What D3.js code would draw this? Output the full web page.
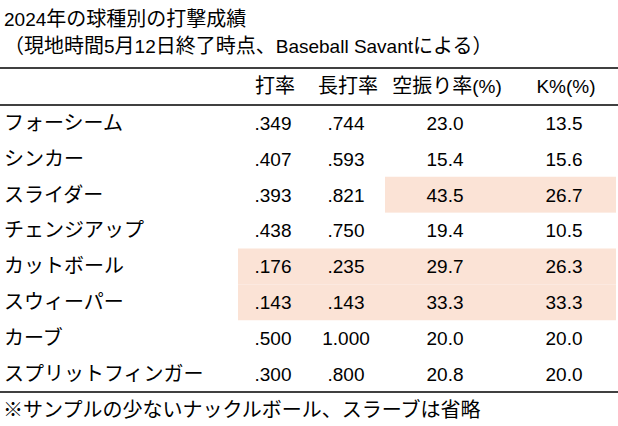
<!DOCTYPE html>
<html><head><meta charset="utf-8">
<script src="https://cdn.jsdelivr.net/npm/d3@7"></script>
<style>
html,body{margin:0;padding:0;background:#fff;}
svg{display:block;font-family:"Liberation Sans","Noto Sans CJK JP",Arial,sans-serif;}
</style></head><body>
<svg id="c" width="618" height="426"></svg>
<script>
const titleLines = ["2024年の球種別の打撃成績", "（現地時間5月12日終了時点、Baseball Savantによる）"];
const footnote = "※サンプルの少ないナックルボール、スラーブは省略";
const columns = ["打率", "長打率", "空振り率(%)", "K%(%)"];
const pitches = ["フォーシーム", "シンカー", "スライダー", "チェンジアップ", "カットボール", "スウィーパー", "カーブ", "スプリットフィンガー"];
const avg = [".349", ".407", ".393", ".438", ".176", ".143", ".500", ".300"];
const slg = [".744", ".593", ".821", ".750", ".235", ".143", "1.000", ".800"];
const whiff = ["23.0", "15.4", "43.5", "19.4", "29.7", "33.3", "20.0", "20.8"];
const kpct = ["13.5", "15.6", "26.7", "10.5", "26.3", "33.3", "20.0", "20.0"];
// highlighted cells: [pitch, first column, last column]
const highlights = [["スライダー", "空振り率(%)", "K%(%)"], ["カットボール", "打率", "K%(%)"], ["スウィーパー", "打率", "K%(%)"]];

const W = 618, H = 426;
const svg = d3.select("#c");
const fsLatin = 19, fsCJK = 20;

// write mixed text: ASCII runs at latin size, other runs at CJK size
function mixed(sel) {
  sel.attr("font-size", fsLatin).attr("dy", "0.36em");
  sel.each(function(d) {
    const t = d3.select(this);
    const s = typeof d === "string" ? d : d.label;
    const runs = s.match(/[\x20-\x7e]+|[^\x20-\x7e]+/g) || [];
    t.selectAll("tspan").data(runs).join("tspan")
      .attr("font-size", r => /^[\x20-\x7e]+$/.test(r) ? fsLatin : fsCJK)
      .text(r => r);
  });
}

const y = d3.scaleBand().domain(pitches).range([105, 392]);
const x = d3.scaleOrdinal().domain(columns).range([273, 346, 445, 564]);
const colLeft = d3.scaleOrdinal().domain(columns).range([238, 310, 385, 500]);
const colRight = d3.scaleOrdinal().domain(columns).range([310, 385, 500, 618]);

// highlights
svg.append("g").selectAll("rect").data(highlights).join("rect")
  .attr("x", d => colLeft(d[1]))
  .attr("y", d => y(d[0]))
  .attr("width", d => colRight(d[2]) - colLeft(d[1]) - 2)
  .attr("height", y.bandwidth())
  .attr("fill", "#fbe3d6");

// title
svg.append("g").selectAll("text").data(titleLines).join("text")
  .attr("x", 4)
  .attr("y", (d, i) => 19 + i * 27)
  .attr("fill", "#000")
  .call(mixed);

// rules
const rules = [68, 105, 392];
svg.append("g").selectAll("line").data(rules).join("line")
  .attr("x1", 0).attr("x2", W)
  .attr("y1", d => d).attr("y2", d => d)
  .attr("stroke", "#000").attr("stroke-width", 1.5);

// header
svg.append("g").selectAll("text").data(columns).join("text")
  .attr("x", d => x(d) + 2)
  .attr("y", 86)
  .attr("text-anchor", "middle")
  .call(mixed);

// rows
const rows = pitches.map((p, i) => ({ label: p, vals: [avg[i], slg[i], whiff[i], kpct[i]] }));
const rg = svg.append("g").selectAll("g").data(rows).join("g")
  .attr("transform", d => `translate(0,${y(d.label) + y.bandwidth() / 2})`);
rg.append("text")
  .attr("x", 4)
  .call(mixed);
rg.selectAll("text.v").data(d => d.vals.map((v, j) => ({ v, c: columns[j] }))).join("text")
  .attr("class", "v")
  .attr("x", d => x(d.c)).attr("dy", "0.36em")
  .attr("text-anchor", "middle")
  .attr("font-size", fsLatin)
  .text(d => d.v);

// footnote
svg.append("g").selectAll("text").data([footnote]).join("text")
  .attr("x", 3).attr("y", 410)
  .call(mixed);
</script>
</body></html>
